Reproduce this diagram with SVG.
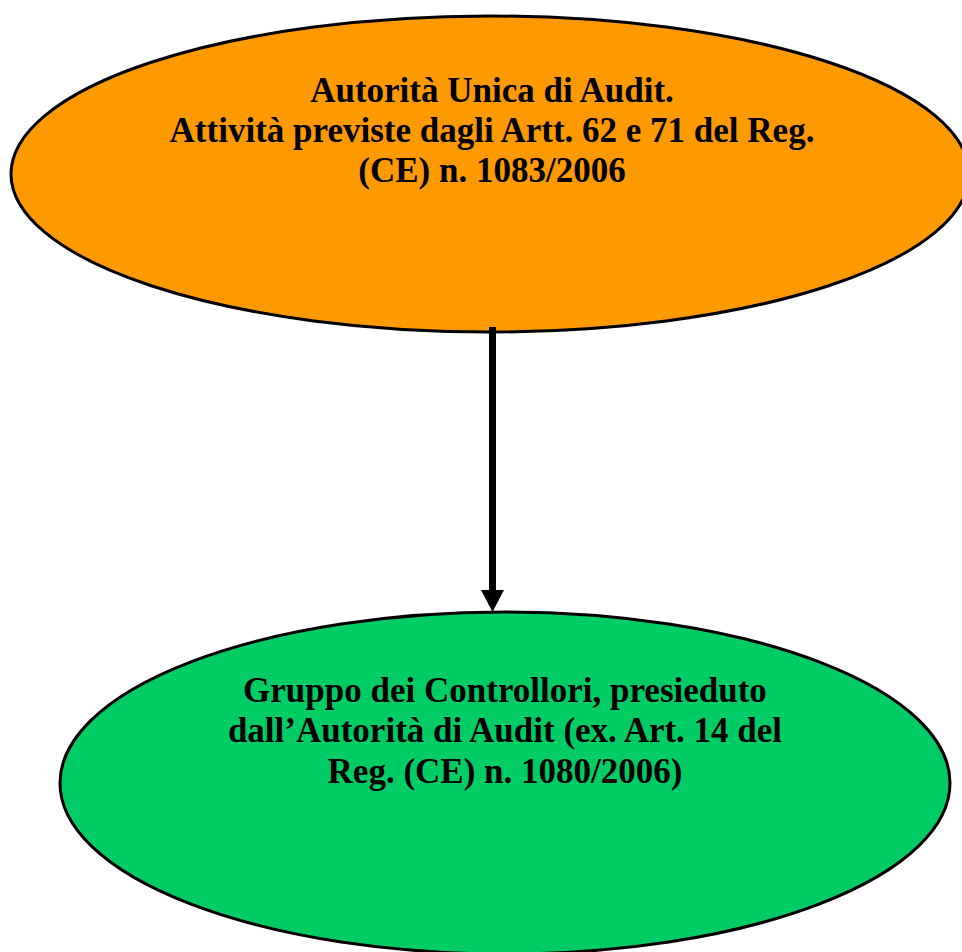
<svg xmlns="http://www.w3.org/2000/svg" width="962" height="952" viewBox="0 0 962 952">
<style>
.node{stroke:#000;stroke-width:3}
.lbl{font-family:"Liberation Serif","Times New Roman",serif;font-weight:bold;font-size:35px;fill:#000;text-anchor:middle}
.conn{stroke:#000;stroke-width:7;fill:none}
.head{fill:#000}
</style>
<rect width="962" height="952" fill="#fff"/>
<g id="node-autorita">
<ellipse class="node" cx="490" cy="174" rx="479" ry="158" fill="#FF9900"/>
<text class="lbl" x="492" y="102">Autorità Unica di Audit.</text>
<text class="lbl" x="492" y="142">Attività previste dagli Artt. 62 e 71 del Reg.</text>
<text class="lbl" x="492" y="182">(CE) n. 1083/2006</text>
</g>
<g id="node-gruppo">
<ellipse class="node" cx="505" cy="783" rx="445" ry="171" fill="#00CC66"/>
<text class="lbl" x="505" y="702">Gruppo dei Controllori, presieduto</text>
<text class="lbl" x="505" y="742">dall’Autorità di Audit (ex. Art. 14 del</text>
<text class="lbl" x="505" y="783">Reg. (CE) n. 1080/2006)</text>
</g>
<g id="connectors">
<line class="conn" x1="492.5" y1="327" x2="492.5" y2="592"/>
<polygon class="head" points="481,590 504,590 492.5,612"/>
</g>
</svg>
